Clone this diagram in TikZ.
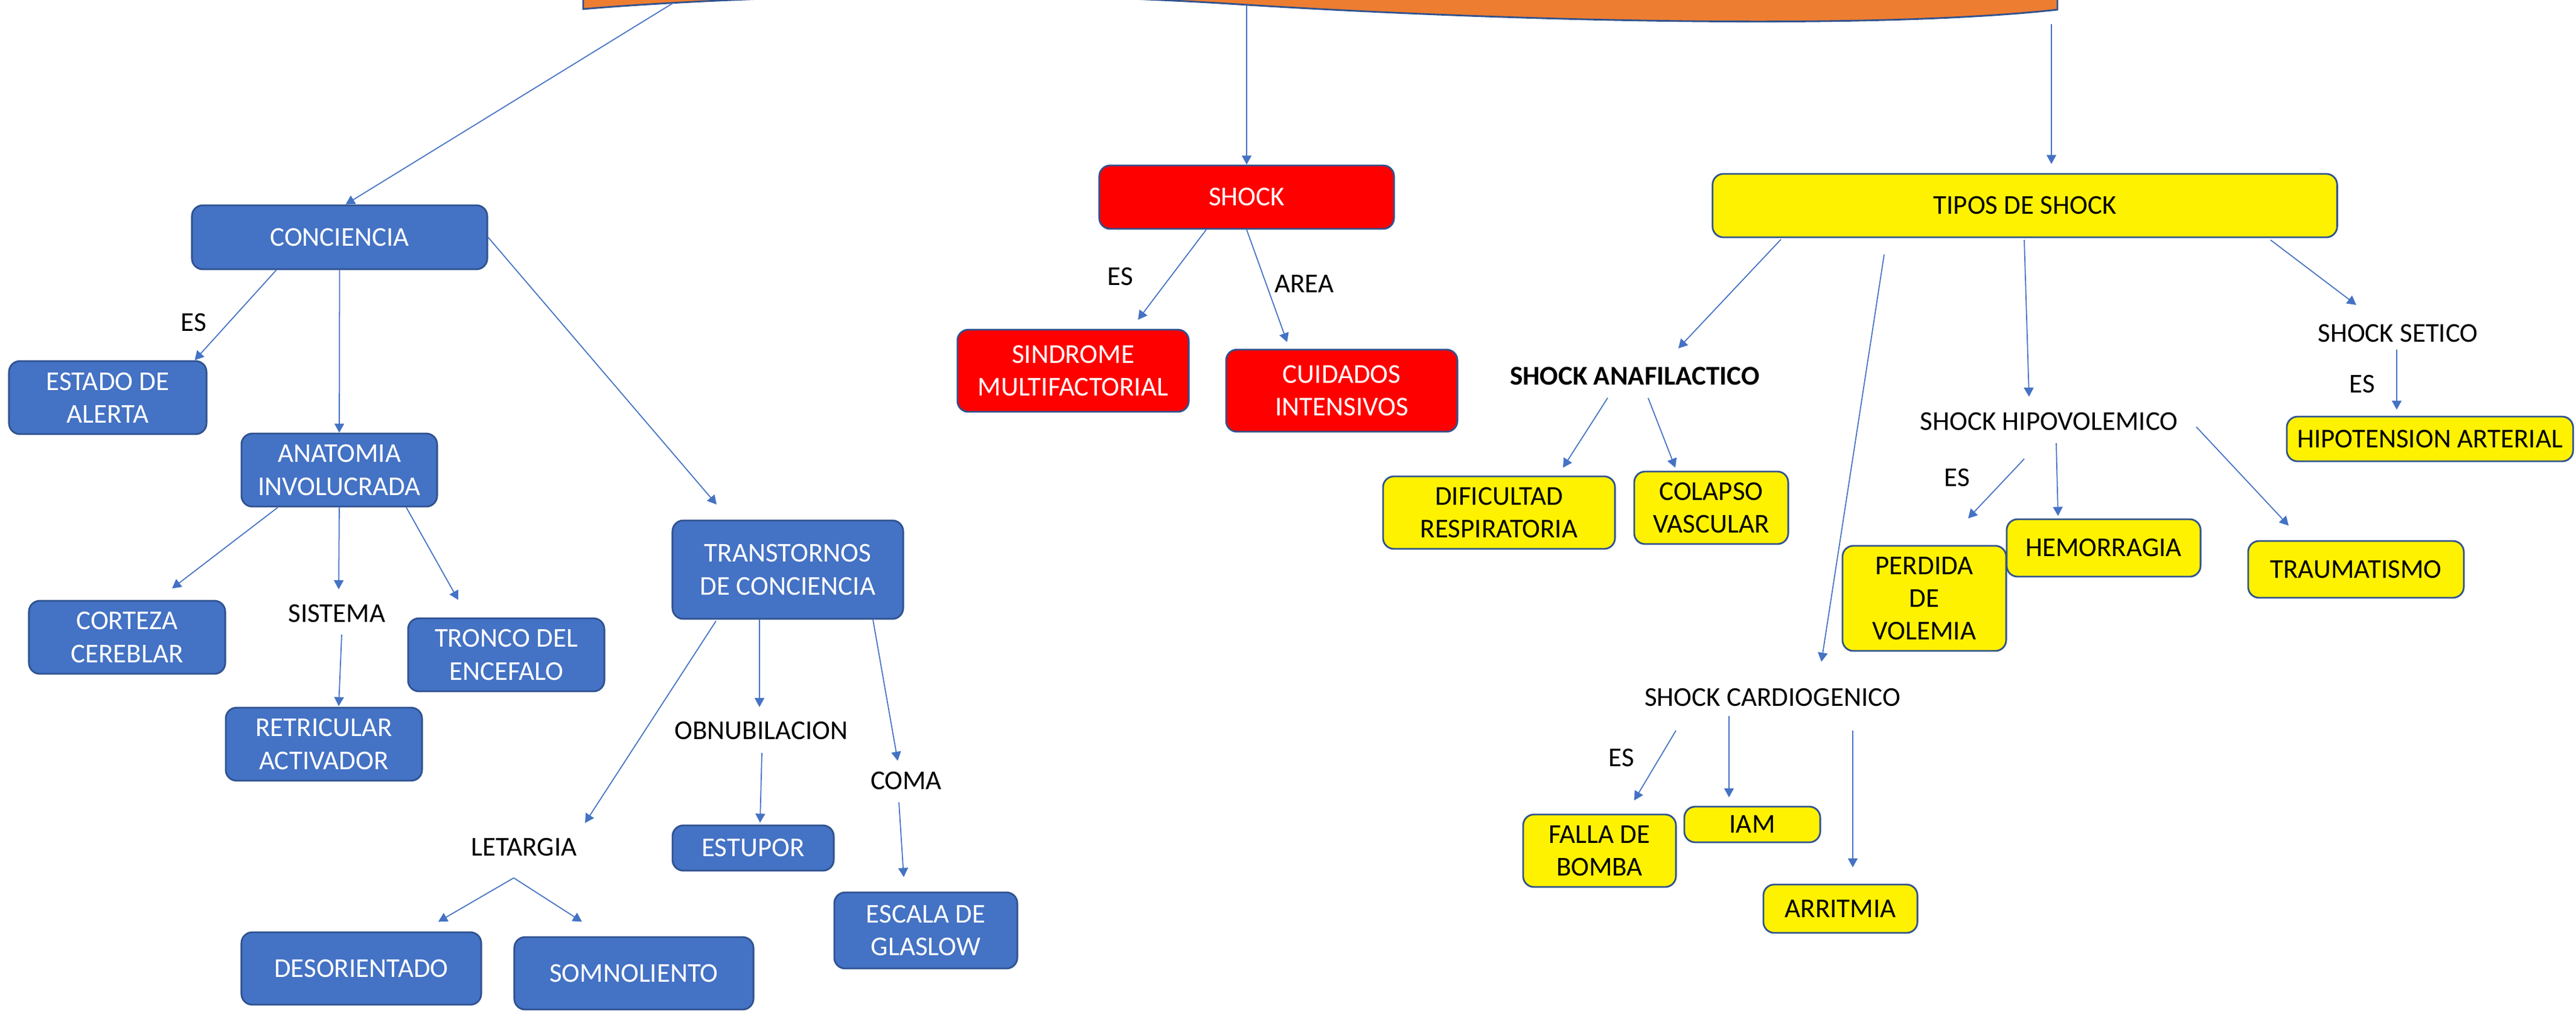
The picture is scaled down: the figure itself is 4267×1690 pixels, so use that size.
\documentclass[tikz,border=0pt]{standalone}
\usepackage{fontspec}
\setmainfont{Carlito}
\usepackage{tikz}
\usetikzlibrary{arrows.meta,calc}

\definecolor{boxblue}{HTML}{4472C4}
\definecolor{edgeblue}{HTML}{2F528F}
\definecolor{bannerorange}{HTML}{ED7D31}

\begin{document}
\begin{tikzpicture}[
    x=0.01cm, y=-0.01cm,
    every node/.style={font=\fontsize{12.8}{15.4}\selectfont},
    bluebox/.style={rectangle, rounded corners=0.18cm, draw=edgeblue, fill=boxblue, line width=0.8pt, text=white, align=center, inner sep=2pt},
    redbox/.style={rectangle, rounded corners=0.18cm, draw=edgeblue, fill=red, line width=0.8pt, text=white, align=center, inner sep=2pt},
    yellowbox/.style={rectangle, rounded corners=0.18cm, draw=edgeblue, fill=yellow, line width=0.8pt, text=black, align=center, inner sep=2pt},
    linktext/.style={text=black, align=center, inner sep=2pt},
    arrow/.style={->, >={Triangle[length=1.5mm, width=1.6mm]}, draw=boxblue, line width=0.5pt}
]
    \useasboundingbox (0,0) rectangle (4267,1690);

    % Banner
    \filldraw[fill=bannerorange, draw=edgeblue, line width=0.8pt] (966,-80) -- (966,15)
        .. controls (1200,-5) and (1650,-20) .. (2065,8)
        .. controls (2500,35) and (3100,50) .. (3408,16) -- (3408,-80) -- cycle;
    \coordinate (wave1) at (1115,5);
    \coordinate (wave2) at (2065,8);
    \coordinate (wave3) at (3398,40);

    % Conciencia
    \node[bluebox, minimum width=4.89cm, minimum height=1.06cm] (conc) at (562.5,393) {CONCIENCIA};
    \node[bluebox, minimum width=3.27cm, minimum height=1.21cm] (alerta) at (178.5,658.5) {ESTADO DE\\ALERTA};
    \node[bluebox, minimum width=3.24cm, minimum height=1.21cm] (anat) at (562,778.5) {ANATOMIA\\INVOLUCRADA};
    \node[bluebox, minimum width=3.25cm, minimum height=1.21cm] (corteza) at (210.5,1055.5) {CORTEZA\\CEREBLAR};
    \node[linktext] (sistema) at (558,1016) {SISTEMA};
    \node[bluebox, minimum width=3.25cm, minimum height=1.21cm] (tronco) at (838.5,1084.5) {TRONCO DEL\\ENCEFALO};
    \node[bluebox, minimum width=3.25cm, minimum height=1.21cm] (reticular) at (536.5,1232.5) {RETRICULAR\\ACTIVADOR};
    \node[linktext] (esalerta) at (321,534) {ES};

    % Trastornos
    \node[bluebox, minimum width=3.82cm, minimum height=1.63cm] (trans) at (1305,943.5) {TRANSTORNOS\\DE CONCIENCIA};
    \node[linktext] (obnub) at (1261,1210) {OBNUBILACION};
    \node[linktext] (coma) at (1501,1293) {COMA};
    \node[linktext] (letargia) at (868,1403) {LETARGIA};
    \node[bluebox, minimum width=2.67cm, minimum height=0.75cm] (estupor) at (1247.5,1404.5) {ESTUPOR};
    \node[bluebox, minimum width=3.03cm, minimum height=1.26cm] (glaslow) at (1533.5,1541) {ESCALA DE\\GLASLOW};
    \node[bluebox, minimum width=3.97cm, minimum height=1.20cm] (desor) at (598.5,1604) {DESORIENTADO};
    \node[bluebox, minimum width=3.96cm, minimum height=1.20cm] (somno) at (1050,1612) {SOMNOLIENTO};
    \coordinate (letsplit) at ($(letargia)+(-17,51)$);

    % Shock
    \node[redbox, minimum width=4.88cm, minimum height=1.05cm] (shock) at (2065,326.5) {SHOCK};
    \node[redbox, minimum width=3.83cm, minimum height=1.36cm] (sindrome) at (1777.5,614) {SINDROME\\MULTIFACTORIAL};
    \node[redbox, minimum width=3.83cm, minimum height=1.36cm] (cuidados) at (2222.5,647) {CUIDADOS\\INTENSIVOS};
    \node[linktext] (esshock) at (1856,458) {ES};
    \node[linktext] (area) at (2160,470) {AREA};

    % Tipos de shock
    \node[yellowbox, minimum width=10.34cm, minimum height=1.05cm] (tipos) at (3354,340.5) {TIPOS DE SHOCK};
    \node[linktext, font=\fontsize{12.8}{15.4}\selectfont\bfseries] (anaf) at (2708,623) {SHOCK ANAFILACTICO};
    \node[yellowbox, minimum width=3.84cm, minimum height=1.20cm] (disnea) at (2483,849) {DIFICULTAD\\RESPIRATORIA};
    \node[yellowbox, minimum width=2.55cm, minimum height=1.20cm] (colapso) at (2834.5,841) {COLAPSO\\VASCULAR};
    \node[linktext] (setico) at (3972,552) {SHOCK SETICO};
    \node[linktext] (essetico) at (3913,636) {ES};
    \node[yellowbox, minimum width=4.74cm, minimum height=0.74cm] (hipot) at (4025,727) {HIPOTENSION ARTERIAL};
    \node[linktext] (hipo) at (3394,698) {SHOCK HIPOVOLEMICO};
    \node[linktext] (eshipo) at (3242,791) {ES};
    \node[yellowbox, minimum width=2.71cm, minimum height=1.74cm] (perdida) at (3187.5,991) {PERDIDA\\DE\\VOLEMIA};
    \node[yellowbox, minimum width=3.21cm, minimum height=0.95cm] (hemo) at (3484.5,907.5) {HEMORRAGIA};
    \node[yellowbox, minimum width=3.57cm, minimum height=0.94cm] (trauma) at (3902.5,943) {TRAUMATISMO};
    \node[linktext] (cardio) at (2936,1155) {SHOCK CARDIOGENICO};
    \node[linktext] (escardio) at (2686,1255) {ES};
    \node[yellowbox, minimum width=2.53cm, minimum height=1.20cm] (falla) at (2649.5,1409) {FALLA DE\\BOMBA};
    \node[yellowbox, minimum width=2.25cm, minimum height=0.59cm] (iam) at (2902.5,1365.5) {IAM};
    \node[yellowbox, minimum width=2.55cm, minimum height=0.80cm] (arritmia) at (3048.5,1505) {ARRITMIA};

    % Arrows
    \draw[arrow] (wave1) -- ($(conc.north)+(10,0)$);
    \draw[arrow] (wave2) -- (shock.north);
    \draw[arrow] (wave3) -- ($(tipos.north)+(44,-15)$);

    \draw[arrow] ($(conc.south)+(-105,0)$) -- ($(alerta.north east)+(-21,0)$);
    \draw[arrow] (conc.south) -- (anat.north);
    \draw[arrow] (conc.east) -- ($(trans.north)+(-118,-25)$);
    \draw[arrow] ($(anat.south)+(-102,0)$) -- ($(corteza.north)+(74.5,-19)$);
    \draw[arrow] (anat.south) -- ($(sistema)+(3,-40)$);
    \draw[arrow] ($(anat.south)+(111,0)$) -- ($(tronco.north)+(-79.5,-29)$);
    \draw[arrow] ($(sistema)+(8,35)$) -- ($(reticular.north)+(24.5,-1)$);

    \draw[arrow] ($(trans.south)+(-119,2)$) -- ($(letargia)+(101,-40)$);
    \draw[arrow] ($(trans.south)+(-47,0)$) -- ($(obnub)+(-3,-39)$);
    \draw[arrow] ($(trans.south)+(141,0)$) -- ($(coma)+(-14,-33)$);
    \draw[arrow] ($(obnub)+(1,37)$) -- ($(estupor.north)+(11.5,-3)$);
    \draw[arrow] ($(coma)+(-12,36)$) -- ($(glaslow.north)+(-36.5,-24)$);
    \draw[arrow] (letsplit) -- ($(desor.north)+(127.5,-16)$);
    \draw[arrow] (letsplit) -- ($(somno.north)+(-86,-24)$);

    \draw[arrow] ($(shock.south)+(-67,0)$) -- ($(sindrome.north)+(107.5,-15)$);
    \draw[arrow] (shock.south) -- ($(cuidados.north)+(-90.5,-11)$);

    \draw[arrow] ($(tipos.south)+(-404,2)$) -- ($(anaf)+(72,-46)$);
    \draw[arrow] ($(tipos.south)+(-233,27)$) -- ($(cardio)+(81,-59)$);
    \draw[arrow] ($(tipos.south)+(-1,3)$) -- ($(hipo)+(-33,-41)$);
    \draw[arrow] ($(tipos.south)+(407,3)$) -- ($(setico)+(-69,-47)$);
    \draw[arrow] ($(setico)+(-2,27)$) -- ($(hipot.north)+(-55,-10)$);
    \draw[arrow] ($(anaf)+(-45,36)$) -- ($(disnea.north)+(106,-13)$);
    \draw[arrow] ($(anaf)+(22,36)$) -- ($(colapso.north)+(-59.5,-5)$);
    \draw[arrow] ($(hipo)+(-41,62)$) -- ($(perdida.north)+(72.5,-44)$);
    \draw[arrow] ($(hipo)+(12,36)$) -- ($(hemo.north)+(-75.5,-4)$);
    \draw[arrow] ($(hipo)+(244,9)$) -- ($(trauma.north)+(-111.5,-24)$);
    \draw[arrow] ($(cardio)+(-160,55)$) -- ($(falla.north)+(57.5,-22)$);
    \draw[arrow] ($(cardio)+(-72,31)$) -- ($(iam.north)+(-38.5,-14)$);
    \draw[arrow] ($(cardio)+(133,55)$) -- ($(arritmia.north)+(20.5,-27)$);
\end{tikzpicture}
\end{document}
